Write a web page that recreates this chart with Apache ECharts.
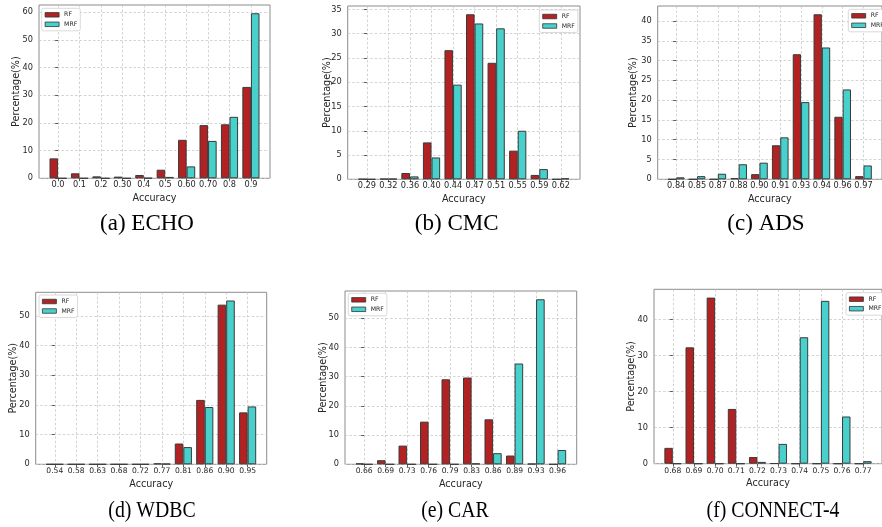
<!DOCTYPE html>
<html><head><meta charset="utf-8">
<script src="https://cdn.jsdelivr.net/npm/echarts@6/dist/echarts.min.js"></script>
<style>html,body{margin:0;padding:0;background:#fff}#c{width:882px;height:527px}</style>
</head><body><div id="c"></div>
<script>
// ---- data ----
const seriesNames = ['RF', 'MRF'];

const echoCats = ['0.0','0.1','0.2','0.30','0.4','0.5','0.60','0.70','0.8','0.9'];
const echoRF   = [7.2, 1.8, 0.7, 0.6, 1.2, 3.1, 13.9, 19.2, 19.5, 33.0];
const echoMRF  = [0, 0, 0, 0, 0.1, 0.5, 4.3, 13.5, 22.2, 59.6];
const echoTicks = [0, 10, 20, 30, 40, 50, 60];

const cmcCats = ['0.29','0.32','0.36','0.40','0.44','0.47','0.51','0.55','0.59','0.62'];
const cmcRF   = [0.05, 0.1, 1.3, 7.6, 26.6, 34.0, 24.0, 5.9, 0.9, 0];
const cmcMRF  = [0, 0.1, 0.6, 4.5, 19.5, 32.1, 31.1, 10.0, 2.1, 0.2];
const cmcTicks = [0, 5, 10, 15, 20, 25, 30, 35];

const adsCats = ['0.84','0.85','0.87','0.88','0.90','0.91','0.93','0.94','0.96','0.97'];
const adsRF   = [0, 0, 0, 0.3, 1.3, 8.6, 31.6, 41.7, 15.8, 0.8];
const adsMRF  = [0.5, 0.8, 1.4, 3.8, 4.2, 10.6, 19.5, 33.3, 22.7, 3.5];
const adsTicks = [0, 5, 10, 15, 20, 25, 30, 35, 40];

const wdbcCats = ['0.54','0.58','0.63','0.68','0.72','0.77','0.81','0.86','0.90','0.95'];
const wdbcRF   = [0, 0, 0, 0, 0, 0.3, 7.0, 21.7, 53.8, 17.5];
const wdbcMRF  = [0, 0, 0, 0, 0, 0.2, 5.8, 19.3, 55.2, 19.5];
const wdbcTicks = [0, 10, 20, 30, 40, 50];

const carCats = ['0.66','0.69','0.73','0.76','0.79','0.83','0.86','0.89','0.93','0.96'];
const carRF   = [0.3, 1.4, 6.4, 14.6, 29.1, 29.7, 15.4, 3.0, 0.2, 0];
const carMRF  = [0, 0, 0, 0, 0, 0.3, 3.8, 34.5, 56.5, 4.9];
const carTicks = [0, 10, 20, 30, 40, 50];

const c4Cats = ['0.68','0.69','0.70','0.71','0.72','0.73','0.74','0.75','0.76','0.77'];
const c4RF   = [4.4, 32.3, 46.1, 15.2, 1.85, 0.1, 0, 0, 0, 0];
const c4MRF  = [0, 0, 0, 0, 0.5, 5.5, 35.1, 45.2, 13.1, 0.7];
const c4Ticks = [0, 10, 20, 30, 40];

const captions = ['(a) ECHO', '(b) CMC', '(c) ADS', '(d) WDBC', '(e) CAR', '(f) CONNECT-4'];

// ---- layout / style ----
const panels = [
  {cats: echoCats, rf: echoRF, mrf: echoMRF, ticks: echoTicks, g: [39, 5, 231, 173.3], lg: [41.7, 8.3], cap: [147, 223.5], yg: 17.5, xg: 15, fs: 8.2, cs: 1},
  {cats: cmcCats, rf: cmcRF, mrf: cmcMRF, ticks: cmcTicks, g: [347.7, 6, 232.3, 173.3], lg: [539.3, 10], cap: [456.7, 223.5], yg: 15.5, xg: 15, fs: 8.2, cs: 1},
  {cats: adsCats, rf: adsRF, mrf: adsMRF, ticks: adsTicks, g: [657.7, 6, 230.7, 173.3], lg: [848.3, 9.3], cap: [766, 223.5], yg: 19, xg: 15, fs: 8.2, cs: 1},
  {cats: wdbcCats, rf: wdbcRF, mrf: wdbcMRF, ticks: wdbcTicks, g: [35.7, 292.3, 231, 172], lg: [39, 295], cap: [152, 511], yg: 17.5, xg: 14.7, fs: 7.6, cs: 0.86},
  {cats: carCats, rf: carRF, mrf: carMRF, ticks: carTicks, g: [345, 291, 231.7, 173.3], lg: [348.3, 293.3], cap: [455, 511], yg: 17, xg: 14.7, fs: 7.6, cs: 0.86},
  {cats: c4Cats, rf: c4RF, mrf: c4MRF, ticks: c4Ticks, g: [654, 289.3, 233.6, 174.4], lg: [846, 292.7], cap: [773, 511], yg: 18, xg: 14.7, fs: 7.6, cs: 0.86}
];

const FONT = 'DejaVu Sans';
const TXT = '#262626';
const COLORS = ['#B22222', '#48D1CC'];
const gridLine = {show: true, lineStyle: {type: [2.5, 2], color: '#c8c8c8', width: 0.8}};

const option = {animation: false, backgroundColor: '#fff', grid: [], xAxis: [], yAxis: [], series: [], legend: [], graphic: []};

panels.forEach((p, k) => {
  option.grid.push({left: p.g[0], top: p.g[1], width: p.g[2], height: p.g[3], show: true, borderColor: '#8c8c8c', borderWidth: 1, backgroundColor: 'transparent'});
  const idx = p.cats.map((c, i) => i);
  option.xAxis.push({
    type: 'value', gridIndex: k, min: -0.89, max: p.cats.length - 1 + 0.89,
    name: 'Accuracy', nameLocation: 'middle', nameGap: p.xg, nameMoveOverlap: false,
    nameTextStyle: {fontFamily: FONT, fontSize: 9.6, color: TXT},
    axisLine: {show: false},
    axisTick: {show: true, customValues: idx, length: 3, lineStyle: {color: '#333', width: 0.8}},
    axisLabel: {customValues: idx, formatter: v => p.cats[Math.round(v)], fontFamily: FONT, fontSize: p.fs, color: TXT, margin: 3},
    splitLine: gridLine
  });
  const ymax = Math.max(...p.rf, ...p.mrf) * 1.05;
  option.yAxis.push({
    type: 'value', gridIndex: k, min: 0, max: ymax,
    name: 'Percentage(%)', nameLocation: 'middle', nameGap: p.yg, nameMoveOverlap: false,
    nameTextStyle: {fontFamily: FONT, fontSize: 9.6, color: TXT},
    axisLine: {show: false},
    axisTick: {show: true, customValues: p.ticks, length: 3, lineStyle: {color: '#333', width: 0.8}},
    axisLabel: {customValues: p.ticks, fontFamily: FONT, fontSize: 8.2, color: TXT, margin: 6},
    splitLine: gridLine
  });
  [p.rf, p.mrf].forEach((vals, s) => {
    option.series.push({
      type: 'bar', name: seriesNames[s], xAxisIndex: k, yAxisIndex: k,
      data: vals.map((v, i) => [i, v]),
      barWidth: '40%', barGap: '0%',
      itemStyle: {color: COLORS[s], borderColor: '#3a3a3a', borderWidth: 1},
      emphasis: {disabled: true}
    });
  });
  option.legend.push({
    left: p.lg[0], top: p.lg[1], orient: 'vertical', data: seriesNames, icon: 'rect',
    itemWidth: 14, itemHeight: 4.5, itemGap: 1.5, padding: [2.5, 3],
    borderColor: '#d0d0d0', borderWidth: 0.8, borderRadius: 2, backgroundColor: '#fff',
    textStyle: {fontFamily: FONT, fontSize: 6.2, color: TXT, lineHeight: 8},
    itemStyle: {borderColor: '#333', borderWidth: 0.8}, selectedMode: false
  });
  option.graphic.push({
    type: 'text', x: p.cap[0], y: p.cap[1], scaleX: p.cs,
    style: {text: captions[k], font: '23px "Liberation Serif"', fill: '#000', align: 'center', verticalAlign: 'middle', textAlign: 'center', textVerticalAlign: 'middle'}
  });
});

const chart = echarts.init(document.getElementById('c'), null, {renderer: 'canvas'});
chart.setOption(option);
</script>
</body></html>
